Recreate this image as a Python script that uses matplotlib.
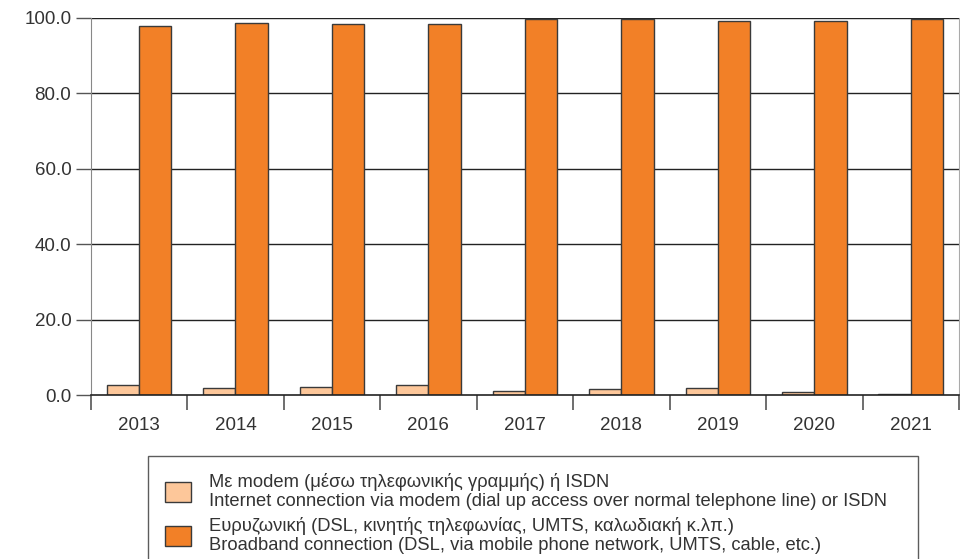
import matplotlib
matplotlib.use("Agg")
import matplotlib.pyplot as plt
import numpy as np
from matplotlib.patches import Patch

#### data ####
years = ["2013", "2014", "2015", "2016", "2017", "2018", "2019", "2020", "2021"]
modem = [2.6, 2.0, 2.2, 2.6, 1.1, 1.7, 1.8, 0.9, 0.2]
broadband = [97.8, 98.6, 98.4, 98.4, 99.6, 99.6, 99.3, 99.3, 99.8]

label_modem = ("Με modem (μέσω τηλεφωνικής γραμμής) ή ISDN\n"
               "Internet connection via modem (dial up access over normal telephone line) or ISDN")
label_broad = ("Ευρυζωνική (DSL, κινητής τηλεφωνίας, UMTS, καλωδιακή κ.λπ.)\n"
               "Broadband connection (DSL, via mobile phone network, UMTS, cable, etc.)")

#### style ####
TEXT = '#333333'
EDGE = '#3a3a3a'
C_LIGHT = '#FDC79A'
C_ORANGE = '#F28027'

matplotlib.rc('font', family=['Liberation Sans', 'DejaVu Sans'], size=13.5)

fig = plt.figure(figsize=(9.6, 5.59), dpi=100)
ax = fig.add_axes([0.0945, 0.293, 0.9045, 0.675])

x = np.arange(len(years))
width = 0.335
ax.bar(x - width / 2, modem, width=width, color=C_LIGHT, edgecolor=EDGE, linewidth=1.0, zorder=3)
ax.bar(x + width / 2, broadband, width=width, color=C_ORANGE, edgecolor=EDGE, linewidth=1.0, zorder=3)

ax.set_xlim(-0.5, len(years) - 0.5)
ax.set_ylim(0, 100)
ax.set_yticks([0, 20, 40, 60, 80, 100])
ax.set_yticklabels(['0.0', '20.0', '40.0', '60.0', '80.0', '100.0'], color=TEXT)

# gridlines
for v in [20, 40, 60, 80, 100]:
    ax.axhline(v, color='#222222', linewidth=1.0, zorder=1)

# boundary ticks, labels at centres
ax.set_xticks(np.arange(len(years) + 1) - 0.5)
ax.set_xticklabels([])
ax.set_xticks(x, minor=True)
ax.set_xticklabels(years, minor=True, color=TEXT)
ax.tick_params(axis='x', which='major', length=11, width=1.2, color='#555555', direction='out')
ax.tick_params(axis='x', which='minor', length=0, pad=16)
ax.tick_params(axis='y', length=11, width=1.0, color='#555555', pad=3)

ax.spines['top'].set_visible(False)
ax.spines['left'].set_color('#888888')
ax.spines['right'].set_color('#aaaaaa')
ax.spines['bottom'].set_color('#222222')
ax.spines['bottom'].set_linewidth(1.2)
ax.spines['bottom'].set_zorder(4)

handles = [Patch(facecolor=C_LIGHT, edgecolor=EDGE, linewidth=1.0),
           Patch(facecolor=C_ORANGE, edgecolor=EDGE, linewidth=1.0)]
leg = fig.legend(handles, [label_modem, label_broad],
                 loc='upper left', bbox_to_anchor=(148 / 960, 1 - 456 / 559, 770 / 960, 0.0),
                 mode='expand', frameon=True, fancybox=False, fontsize=13.2,
                 handlelength=1.4, handleheight=1.3, handletextpad=1.0,
                 labelspacing=0.35, borderpad=0.95, borderaxespad=0.0,
                 labelcolor=TEXT)
for t in leg.get_texts():
    t.set_linespacing(1.15)
leg.get_frame().set_edgecolor('#333333')
leg.get_frame().set_linewidth(1.0)

fig.savefig('out.png', dpi=100)
